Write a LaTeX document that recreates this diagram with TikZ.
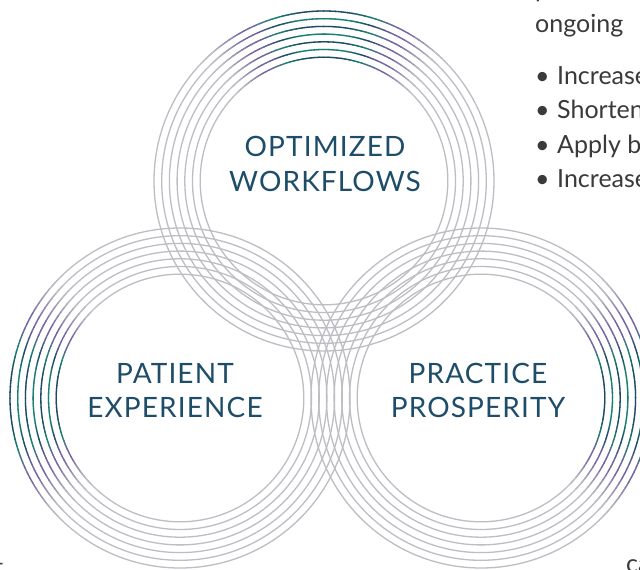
\documentclass[tikz,border=0pt]{standalone}
\usepackage{fontspec}
\setmainfont{Lato}
\newfontfamily\lblfont[LetterSpace=4]{Lato}
\definecolor{navyc}{HTML}{1A4A66}
\definecolor{greenc}{HTML}{13836E}
\definecolor{purplec}{HTML}{7765A6}
\definecolor{greyc}{HTML}{BDBDC3}
\definecolor{lblc}{HTML}{1E4D6A}
\definecolor{bodyc}{HTML}{3A3A3A}
\newcommand\setsegcolor[3]{%
  \ifdim\segd pt<9pt \colorlet{segc}{#2}%
  \else\ifdim\segd pt<17pt \pgfmathtruncatemacro\segp{100*(17-\segd)/8}\colorlet{segc}{#2!\segp!#3}%
  \else\ifdim\segd pt<25pt \pgfmathtruncatemacro\segp{100*(25-\segd)/8}\colorlet{segc}{#3!\segp!purplec}%
  \else\ifdim\segd pt<29pt \colorlet{segc}{purplec}%
  \else\ifdim\segd pt<41pt \pgfmathtruncatemacro\segp{100*(41-\segd)/12}\colorlet{segc}{purplec!\segp!greyc}%
  \else \colorlet{segc}{greyc}\fi\fi\fi\fi\fi}
\newcommand\greyset[1]{%
  \foreach \i in {0,...,6}{%
    \pgfmathsetmacro\rr{170-7.7*\i}%
    \draw[ringline] (#1) circle[radius=\rr pt];
  }}
\newcommand\colourset[2]{%
  \foreach \i in {0,...,6}{%
    \pgfmathsetmacro\rr{170-7.7*\i}%
    \ifodd\i \def\cA{greenc}\def\cB{navyc}\else\def\cA{navyc}\def\cB{greenc}\fi
    \foreach \a in {-44,-42,...,42}{%
      \pgfmathsetmacro\segd{abs(\a+1)}%
      \setsegcolor{\segd}{\cA}{\cB}%
      \pgfmathsetmacro\sa{#2+\a}%
      \pgfmathsetmacro\se{#2+\a+2.3}%
      \draw[segline] ([shift={(\sa:\rr pt)}]#1) arc[start angle=\sa, end angle=\se, radius=\rr pt];
    }}}
\tikzset{
  ringline/.style={draw=greyc, line width=1.3pt},
  segline/.style={draw=segc, line width=1.3pt},
  lbltext/.style={font=\lblfont\fontsize{28}{32}\selectfont, text=lblc, anchor=base, inner sep=0pt},
  bodytext/.style={font=\fontsize{25}{30}\selectfont, text=bodyc, anchor=base west, inner sep=0pt}
}
\begin{document}
\begin{tikzpicture}[x=1pt,y=1pt]
\path[use as bounding box] (0,0) rectangle (640,570);
\clip (0,0) rectangle (640,570);
\fill[white] (0,0) rectangle (640,570);
\coordinate (ctop) at (324,389);
\coordinate (cleft) at (180,172);
\coordinate (cright) at (481,172);
\greyset{ctop}
\greyset{cleft}
\greyset{cright}
\colourset{ctop}{90}
\colourset{cleft}{180}
\colourset{cright}{0}
\node[lbltext] (opt1) at (325,413) {OPTIMIZED};
\node[lbltext] (opt2) at (325,378) {WORKFLOWS};
\node[lbltext] (pat1) at (175,186) {PATIENT};
\node[lbltext] (pat2) at (175,152) {EXPERIENCE};
\node[lbltext] (pra1) at (478,186) {PRACTICE};
\node[lbltext] (pra2) at (478,152) {PROSPERITY};
\node[bodytext] (t0) at (535,572) {p};
\node[bodytext] (t1) at (535,537) {ongoing};
\node[bodytext] (b1) at (535,485) {•\hspace{0.3em}Increase};
\node[bodytext] (b2) at (535,451) {•\hspace{0.3em}Shorten};
\node[bodytext] (b3) at (535,416) {•\hspace{0.3em}Apply b};
\node[bodytext] (b4) at (535,382) {•\hspace{0.3em}Increase};
\node[bodytext, anchor=base east] (d1) at (5,-2) {–};
\node[bodytext] (d2) at (626,-3) {ca};
\end{tikzpicture}
\end{document}
